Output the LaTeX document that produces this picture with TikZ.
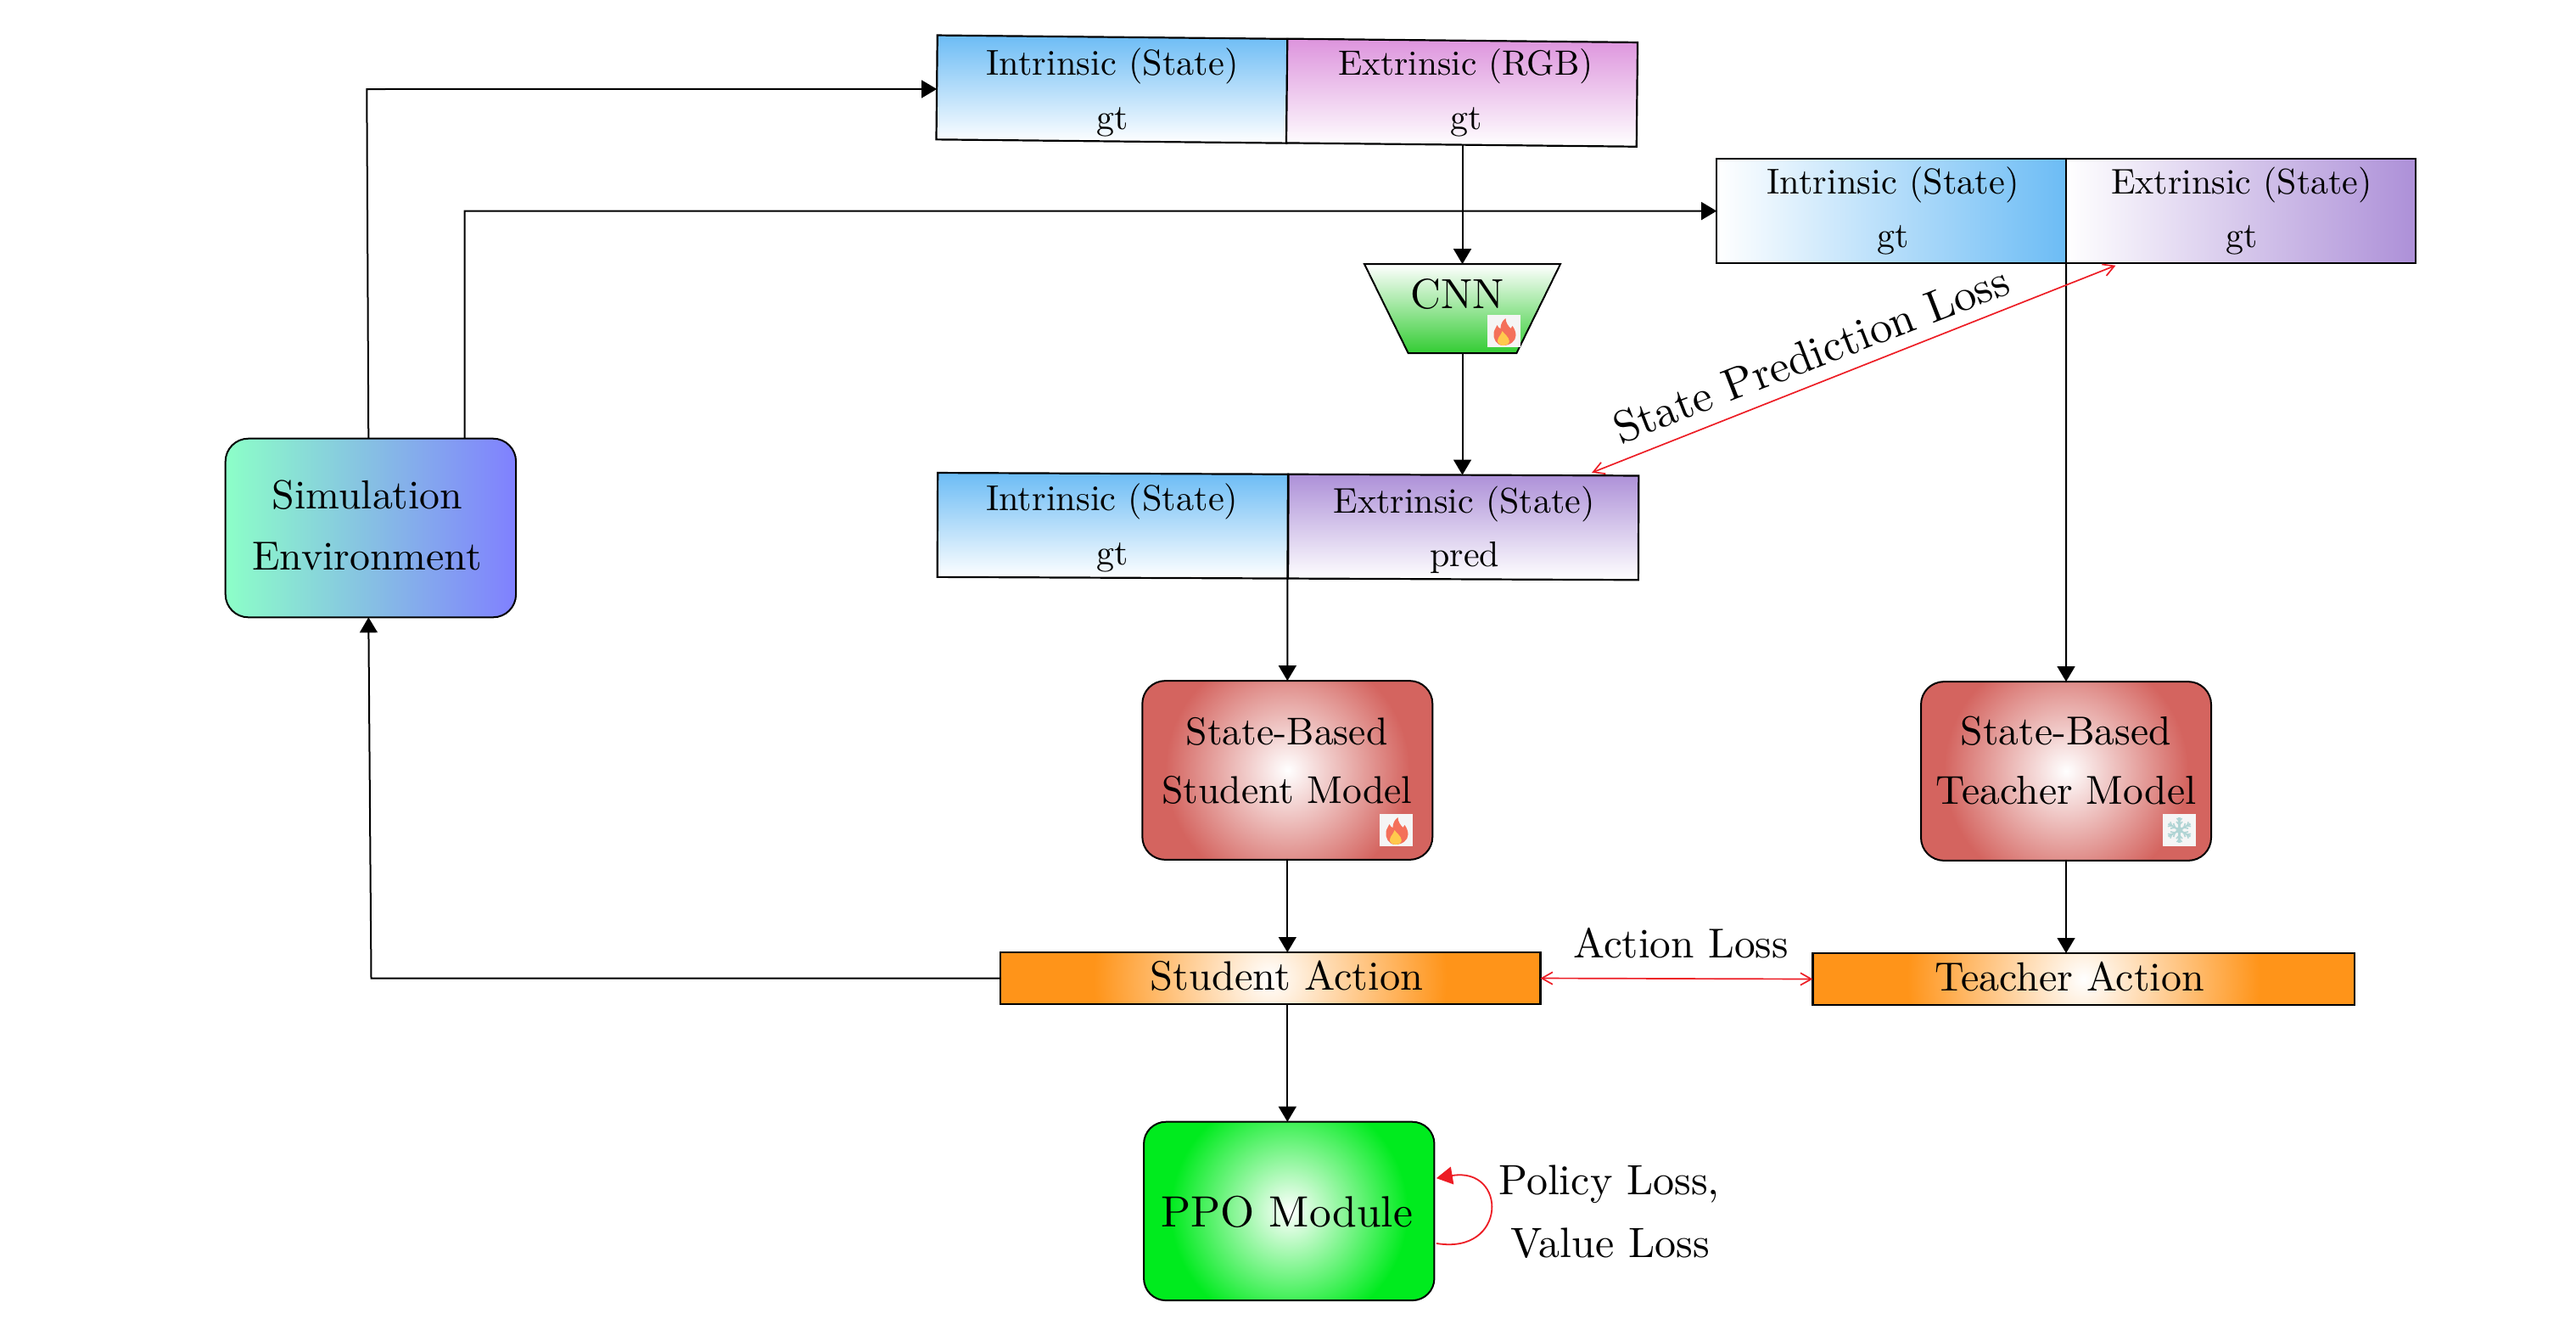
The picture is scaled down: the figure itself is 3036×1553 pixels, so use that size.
\documentclass[tikz,border=0pt]{standalone}
\usepackage{graphicx}
\usetikzlibrary{arrows.meta,shapes.geometric}
\definecolor{blueC}{RGB}{108,188,245}
\definecolor{magC}{RGB}{221,148,221}
\definecolor{purC}{RGB}{173,144,216}
\definecolor{cnnC}{RGB}{51,204,51}
\definecolor{redC}{RGB}{212,100,95}
\definecolor{oraC}{RGB}{255,148,25}
\definecolor{ppoC}{RGB}{0,235,30}
\definecolor{mintC}{RGB}{140,255,200}
\definecolor{perC}{RGB}{128,128,255}
\definecolor{lossC}{RGB}{237,28,36}
\definecolor{flameC}{RGB}{244,112,90}
\definecolor{flameY}{RGB}{255,201,77}
\definecolor{iconC}{RGB}{245,245,245}
\definecolor{snowC}{RGB}{176,212,212}
\newcommand{\sz}[2]{\scalebox{#1}{#2}}
\tikzset{
  x=0.25pt,y=-0.25pt,
  cell/.style={draw=black,line width=0.55pt,inner sep=0pt,outer sep=0pt,minimum width=103.2pt,minimum height=30.7pt},
  lbl/.style={anchor=base,inner sep=0pt,outer sep=0pt},
  arr/.style={draw=black,line width=0.5pt,-{Triangle[length=4.5pt,width=5.2pt]}},
  loss/.style={draw=lossC,line width=0.42pt,{Straight Barb[length=3.2pt,width=3.6pt]}-{Straight Barb[length=3.2pt,width=3.6pt]}},
  radial/.style n args={2}{path picture={
    \fill[#1] (path picture bounding box.south west) rectangle (path picture bounding box.north east);
    \shade[inner color=white,outer color=#1] (path picture bounding box.center) circle (#2);}},
  modelbox/.style={draw=black,line width=0.5pt,rounded corners=6.75pt,inner sep=0pt,outer sep=0pt,minimum width=85.5pt,minimum height=52.7pt,radial={redC}{36pt}},
  actionbox/.style={draw=black,line width=0.55pt,inner sep=0pt,outer sep=0pt,minimum height=15.25pt,radial={oraC}{52pt}},
  flameicon/.pic={
    \fill[iconC] (-19.5,-19) rectangle (19.5,19);
    \fill[flameC] (-1,17) .. controls (-9,17) and (-13,9) .. (-12,2) .. controls (-11.5,-2) and (-9,-4) .. (-8,-7) .. controls (-7,-4) and (-5,-3) .. (-4,-3) .. controls (-4,-8) and (-2,-12) .. (2,-15) .. controls (2,-10) and (5,-6) .. (8,-3) .. controls (9,-3.5) and (9.5,-5) .. (10,-6) .. controls (13,-2) and (14,2) .. (14,5) .. controls (14,12) and (7,17) .. (-1,17) -- cycle;
    \fill[flameY] (-1,17) .. controls (-5,17) and (-8,14) .. (-7.5,11) .. controls (-7,7) and (-3,4) .. (-2,0) .. controls (0,3) and (6,7) .. (6.3,12) .. controls (6.5,15) and (3,17) .. (-1,17) -- cycle;
  },
  snowicon/.pic={
    \fill[iconC] (-19.5,-19) rectangle (19.5,19);
    \foreach \a in {30,90,150,210,270,330}{
      \begin{scope}[rotate=\a]
        \draw[snowC,line width=0.55pt] (0,0) -- (15,0);
        \draw[snowC,line width=0.4pt] (6,0) -- (10,3.5) (6,0) -- (10,-3.5) (10.5,0) -- (14,3) (10.5,0) -- (14,-3);
      \end{scope}
    }
    \fill[snowC] (0,0) circle (4);
  }
}
\begin{document}
\begin{tikzpicture}
\path[use as bounding box,fill=white] (0,0) rectangle (3036,1553);

% top input box
\node[cell,rotate=-0.6,top color=blueC,bottom color=white] (boxAL) at (1310.5,105.1) {};
\node[cell,rotate=-0.6,top color=magC,bottom color=white] (boxAR) at (1723,109.2) {};
\node[lbl] (tAL1) at (1311,88.3) {\sz{1.06}{Intrinsic (State)}};
\node[lbl] (tAL2) at (1311,152.3) {\sz{1.05}{gt}};
\node[lbl] (tAR1) at (1727.5,88.3) {\sz{1.035}{Extrinsic (RGB)}};
\node[lbl] (tAR2) at (1728,152.3) {\sz{1.05}{gt}};

% teacher input box
\node[cell,minimum width=103pt,left color=white,right color=blueC] (boxTL) at (2229.2,248.6) {};
\node[cell,minimum width=103pt,left color=white,right color=purC] (boxTR) at (2641,248.6) {};
\node[lbl] (tTL1) at (2231,228) {\sz{1.06}{Intrinsic (State)}};
\node[lbl] (tTL2) at (2231,291.7) {\sz{1.05}{gt}};
\node[lbl] (tTR1) at (2642,228) {\sz{1.05}{Extrinsic (State)}};
\node[lbl] (tTR2) at (2642,291.7) {\sz{1.05}{gt}};

% CNN
\node[trapezium,shape border rotate=180,trapezium stretches=true,trapezium angle=66,draw=black,line width=0.5pt,inner sep=0pt,outer sep=0pt,minimum width=57.75pt,minimum height=26.25pt,top color=white,bottom color=cnnC] (cnn) at (1723.5,363.7) {\phantom{X}};
\node[lbl] (tcnn) at (1718,363) {\sz{1.24}{CNN}};
\pic at (1772.5,390) {flameicon};

% student input box
\node[cell,rotate=-0.24,top color=blueC,bottom color=white] (boxSL) at (1311.3,619.3) {};
\node[cell,rotate=-0.24,top color=purC,bottom color=white] (boxSR) at (1724.7,621) {};
\node[lbl] (tSL1) at (1310.8,601.7) {\sz{1.06}{Intrinsic (State)}};
\node[lbl] (tSL2) at (1311,665.7) {\sz{1.05}{gt}};
\node[lbl] (tSR1) at (1725.5,604) {\sz{1.05}{Extrinsic (State)}};
\node[lbl] (tSR2) at (1726.3,667.7) {\sz{1.05}{pred}};

% simulation
\node[draw=black,line width=0.5pt,rounded corners=6.75pt,inner sep=0pt,outer sep=0pt,minimum width=85.6pt,minimum height=52.65pt,left color=mintC,right color=perC] (sim) at (436.9,622) {};
\node[lbl] (tsim1) at (433,599) {\sz{1.195}{Simulation}};
\node[lbl] (tsim2) at (432.5,671) {\sz{1.195}{Environment}};

% models
\node[modelbox] (sm) at (1517.3,907.5) {};
\node[lbl] (tsm1) at (1516.5,877.7) {\sz{1.14}{State-Based}};
\node[lbl] (tsm2) at (1517,946) {\sz{1.14}{Student Model}};
\pic at (1645.5,978) {flameicon};
\node[modelbox] (tm) at (2435,908.5) {};
\node[lbl] (ttm1) at (2435,877) {\sz{1.19}{State-Based}};
\node[lbl] (ttm2) at (2435,947.7) {\sz{1.19}{Teacher Model}};
\pic at (2568.5,978) {snowicon};

% actions
\node[actionbox,minimum width=159.2pt] (sa) at (1497,1152.5) {};
\node[lbl] (tsa) at (1516.6,1166) {\sz{1.21}{Student Action}};
\node[actionbox,minimum width=159.65pt] (ta) at (2455.7,1153.5) {};
\node[lbl] (tta) at (2439,1167) {\sz{1.2}{Teacher Action}};
\node[lbl] (tal) at (1981,1128) {\sz{1.233}{Action Loss}};

% PPO
\node[draw=black,line width=0.5pt,rounded corners=6.5pt,inner sep=0pt,outer sep=0pt,minimum width=85.6pt,minimum height=52.6pt,radial={ppoC}{35pt}] (ppo) at (1519.25,1426.9) {};
\node[lbl] (tppo) at (1516.6,1445) {\sz{1.29}{PPO Module}};
\node[lbl] (tpl) at (1896.5,1407) {\sz{1.25}{Policy Loss,}};
\node[lbl] (tvl) at (1897.6,1481.7) {\sz{1.25}{Value Loss}};

% state prediction label
\node[lbl,rotate=21.2] (tspl) at (2141,434) {\sz{1.32}{State Prediction Loss}};

% corners of the routed connectors
\coordinate (c1) at (432.3,105);
\coordinate (c2) at (547.7,248.5);
\coordinate (c3) at (437.5,1152.5);

% black connectors
\draw[arr] ([xshift=-0.65pt]sim.north) -- (c1) -- ([yshift=-0.5pt]boxAL.west);
\draw[arr] ([xshift=27.7pt]sim.north) -- (c2) -- (boxTL.west);
\draw[arr] (sa.west) -- (c3) -- ([xshift=-0.65pt]sim.south);
\draw[arr] (cnn.north |- boxAR.south) -- (cnn.north);
\draw[arr] (cnn.south) -- (cnn.south |- boxSR.north);
\draw[arr] (boxSL.south east) -- (sm.north);
\draw[arr] (boxTL.south east) -- (tm.north);
\draw[arr] (sm.south) -- (sm.south |- sa.north);
\draw[arr] (tm.south) -- (tm.south |- ta.north);
\draw[arr] (sm.south |- sa.south) -- (sm.south |- ppo.north);

% red connectors
\draw[loss] ([shift={(37.8pt,0.7pt)}]boxSR.north) -- ([shift={(-36.9pt,-0.7pt)}]boxTR.south);
\draw[loss] (sa.east) -- (ta.west);
\draw[draw=lossC,line width=0.45pt,-{Triangle[length=4.75pt,width=5.2pt]}] ([shift={(0.6pt,-9.5pt)}]ppo.east) .. controls +(21pt,-3.5pt) and +(21pt,3.5pt) .. ([shift={(0.6pt,9.7pt)}]ppo.east);
\end{tikzpicture}
\end{document}
